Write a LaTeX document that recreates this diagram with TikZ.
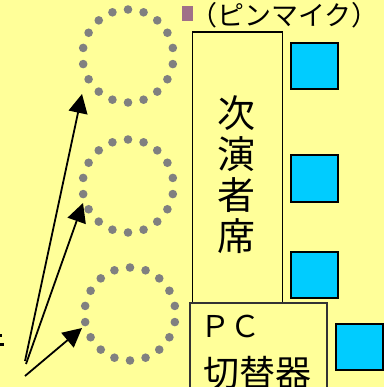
\documentclass[tikz,border=0pt]{standalone}
\usepackage{fontspec}
\newfontfamily\jp{Noto Sans CJK JP}
\usetikzlibrary{arrows.meta}
\definecolor{bgyellow}{HTML}{FFFF99}
\definecolor{dotgray}{HTML}{808080}
\definecolor{micblue}{HTML}{00CCFF}
\definecolor{micpink}{HTML}{A07088}
\definecolor{boxgray}{HTML}{333333}
\tikzset{
  arr/.style={line width=1.8pt,-{Triangle[length=19pt,width=19pt]}},
  bluesq/.style={draw=black,line width=2pt,fill=micblue,minimum width=47pt,minimum height=46pt,inner sep=0pt},
  seatbox/.style={draw=black,line width=1.5pt,fill=bgyellow,inner sep=0pt},
  pcbox/.style={draw=boxgray,line width=1.5pt,fill=bgyellow,inner sep=0pt},
  dot/.style={fill=dotgray},
}
\begin{document}
\begin{tikzpicture}[x=1pt,y=-1pt]
\useasboundingbox (0,0) rectangle (384,387);
\fill[bgyellow] (0,0) rectangle (384,387);
\clip (0,0) rectangle (384,387);
% dotted circles
\foreach \cx/\cy in {128/56,128/186,130/314}{
  \foreach \a in {10,30,...,350}{
    \fill[dot] ({\cx+45.5*cos(\a)},{\cy+46.5*sin(\a)}) circle (4.3);
  }
}
% seat box
\node[seatbox,minimum width=90pt,minimum height=271pt] (seat) at (237.5,167.5) {};
\node[font=\jp\fontsize{38}{41}\selectfont,align=center,inner sep=0pt] (seatlabel) at (236,175) {次\\演\\者\\席};
% PC box
\node[pcbox,minimum width=137pt,minimum height=100pt] (pc) at (258.5,353) {};
\node[font=\jp\fontsize{30}{45}\selectfont,anchor=base west,inner sep=0pt] (pclabel) at (200,337) {ＰＣ};
\node[font=\jp\fontsize{36}{45}\selectfont,anchor=base west,inner sep=0pt] (pclabel2) at (203,386) {切替器};
% blue squares
\node[bluesq] (m1) at (314.5,66) {};
\node[bluesq] (m2) at (314.5,178.5) {};
\node[bluesq] (m3) at (314.5,275) {};
\node[bluesq] (m4) at (359.5,346.5) {};
% pin mic label
\fill[micpink] (182,6) rectangle (193,21);
\node[font=\jp\fontsize{27}{30}\selectfont,anchor=base west,inner sep=0pt] (miclabel) at (190,26) {（ピンマイク）};
% fragment at left edge
\fill[black] (0,334) rectangle (2,337);
\fill[black] (0,343) rectangle (4,346);
% arrows
\coordinate (s1) at (25,361);
\coordinate (s2) at (26,364);
\coordinate (s3) at (25,376);
\coordinate (t1) at (82,94);
\coordinate (t2) at (83,203);
\coordinate (t3) at (82,328);
\draw[arr] (s1) -- (t1);
\draw[arr] (s2) -- (t2);
\draw[arr] (s3) -- (t3);
\end{tikzpicture}
\end{document}
